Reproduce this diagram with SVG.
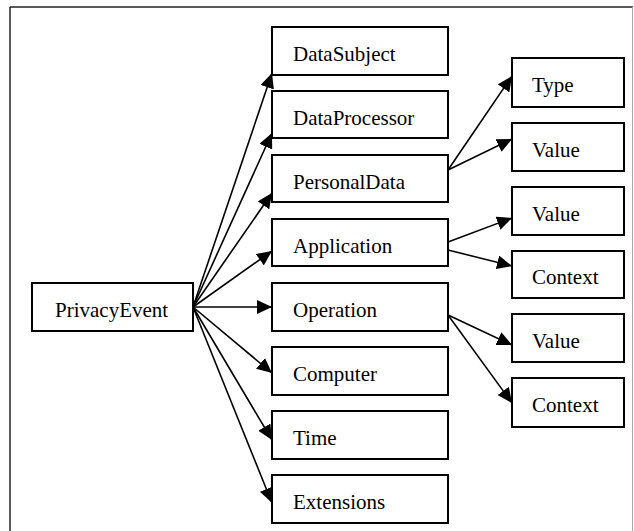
<svg xmlns="http://www.w3.org/2000/svg" width="634" height="531" viewBox="0 0 634 531">
<defs>
<marker id="ah" markerUnits="userSpaceOnUse" markerWidth="16" markerHeight="14" viewBox="0 0 16 14" refX="15" refY="7" orient="auto">
<path d="M0,0 L15,7 L0,14 Z" fill="#000"/>
</marker>
</defs>
<style>
.box{fill:#fff;stroke:#000;stroke-width:2}
.t{font-family:"Liberation Serif","Times New Roman",serif;font-size:21px;fill:#000}
.c{stroke:#000;stroke-width:1.6;fill:none;marker-end:url(#ah)}
</style>
<rect x="0" y="0" width="634" height="531" fill="#fff"/>
<g id="frame">
<line x1="10" y1="7" x2="633" y2="7" stroke="#222" stroke-width="1.5"/>
<line x1="10" y1="7" x2="10" y2="531" stroke="#222" stroke-width="1.5"/>
<line x1="632.5" y1="7" x2="632.5" y2="531" stroke="#aaa" stroke-width="1"/>
</g>
<g id="connectors">
<line class="c" x1="193" y1="307" x2="272" y2="73"/>
<line class="c" x1="193" y1="307" x2="272" y2="133"/>
<line class="c" x1="193" y1="307" x2="272" y2="193"/>
<line class="c" x1="193" y1="307" x2="272" y2="251"/>
<line class="c" x1="193" y1="307" x2="272" y2="307"/>
<line class="c" x1="193" y1="307" x2="272" y2="373"/>
<line class="c" x1="193" y1="307" x2="272" y2="440"/>
<line class="c" x1="193" y1="307" x2="272" y2="503"/>
<line class="c" x1="448" y1="170" x2="512" y2="76"/>
<line class="c" x1="448" y1="170" x2="512" y2="139"/>
<line class="c" x1="448" y1="242" x2="512" y2="218"/>
<line class="c" x1="448" y1="250" x2="512" y2="266"/>
<line class="c" x1="448" y1="315" x2="512" y2="345"/>
<line class="c" x1="448" y1="315" x2="512" y2="403"/>
</g>
<g id="PrivacyEvent"><rect class="box" x="32" y="283" width="161" height="48"/><text class="t" x="55" y="317">PrivacyEvent</text></g>
<g id="DataSubject"><rect class="box" x="272" y="27" width="176" height="48"/><text class="t" x="293" y="61">DataSubject</text></g>
<g id="DataProcessor"><rect class="box" x="272" y="91" width="176" height="47"/><text class="t" x="293" y="125">DataProcessor</text></g>
<g id="PersonalData"><rect class="box" x="272" y="155" width="176" height="47"/><text class="t" x="293" y="189">PersonalData</text></g>
<g id="Application"><rect class="box" x="272" y="219" width="176" height="47"/><text class="t" x="293" y="253">Application</text></g>
<g id="Operation"><rect class="box" x="272" y="283" width="176" height="48"/><text class="t" x="293" y="317">Operation</text></g>
<g id="Computer"><rect class="box" x="272" y="347" width="176" height="48"/><text class="t" x="293" y="381">Computer</text></g>
<g id="Time"><rect class="box" x="272" y="411" width="176" height="48"/><text class="t" x="293" y="445">Time</text></g>
<g id="Extensions"><rect class="box" x="272" y="475" width="176" height="48"/><text class="t" x="293" y="509">Extensions</text></g>
<g id="PD_Type"><rect class="box" x="512" y="58" width="112" height="49"/><text class="t" x="532" y="92">Type</text></g>
<g id="PD_Value"><rect class="box" x="512" y="123" width="112" height="48"/><text class="t" x="532" y="157">Value</text></g>
<g id="App_Value"><rect class="box" x="512" y="187" width="112" height="48"/><text class="t" x="532" y="221">Value</text></g>
<g id="App_Context"><rect class="box" x="512" y="251" width="112" height="47"/><text class="t" x="532" y="284">Context</text></g>
<g id="Op_Value"><rect class="box" x="512" y="314" width="112" height="48"/><text class="t" x="532" y="348">Value</text></g>
<g id="Op_Context"><rect class="box" x="512" y="378" width="112" height="49"/><text class="t" x="532" y="412">Context</text></g>
</svg>
